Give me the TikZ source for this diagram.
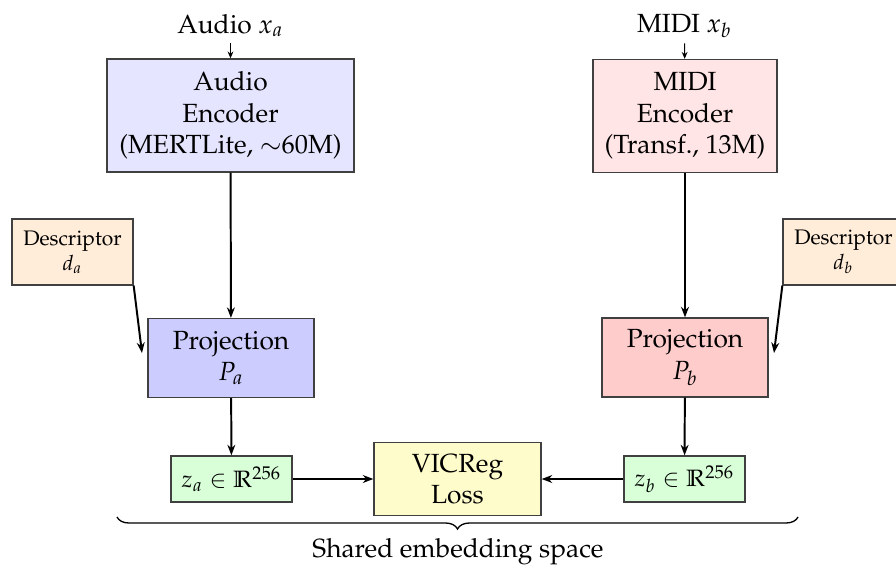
\documentclass[tikz,border=0pt]{standalone}
\usepackage[T1]{fontenc}
\usepackage{mathpazo}
\usepackage{amssymb}
\usetikzlibrary{arrows.meta,decorations.pathreplacing}
\begin{document}
\begin{tikzpicture}[x=0.3802pt,y=-0.3802pt,
  box/.style={draw=black!75, line width=0.5pt, align=center, inner sep=1pt},
  enca/.style={box, fill=blue!10, minimum width=93.9pt, minimum height=43pt},
  encb/.style={box, fill=red!10, minimum width=70pt, minimum height=43pt},
  proja/.style={box, fill=blue!20, minimum width=63pt, minimum height=30pt},
  projb/.style={box, fill=red!20, minimum width=63pt, minimum height=30pt},
  descbox/.style={box, fill=orange!15, minimum width=46pt, minimum height=25pt, font=\footnotesize},
  zbox/.style={box, fill=green!15, minimum width=46pt, minimum height=17.5pt, font=\small},
  lossbox/.style={box, fill=yellow!20, minimum width=63.5pt, minimum height=28pt},
  inlabel/.style={inner sep=2pt},
  arr/.style={-{Stealth[length=4pt,width=3pt]}, line width=0.75pt},
  smallarr/.style={-{Stealth[length=2.6pt,width=2.2pt]}, line width=0.4pt}
]
\useasboundingbox (0,0) rectangle (896,568);

\node[inlabel, anchor=base] (la) at (230.5,33) {Audio $x_a$};
\node[inlabel, anchor=base] (lb) at (684.5,32) {MIDI $x_b$};

\node[enca] (ea) at (230.5,115.5) {Audio\\Encoder\\(MERTLite, $\sim$60M)};
\node[encb] (eb) at (685,116) {MIDI\\Encoder\\(Transf., 13M)};

\node[descbox] (da) at (72.5,252) {Descriptor\\$d_a$};
\node[descbox] (db) at (843.5,252) {Descriptor\\$d_b$};

\node[proja] (pa) at (231,358) {Projection\\$P_a$};
\node[projb] (pb) at (685,357.5) {Projection\\$P_b$};

\node[zbox] (za) at (231.5,479) {$z_a \in \mathbb{R}^{256}$};
\node[zbox] (zb) at (684.5,479) {$z_b \in \mathbb{R}^{256}$};
\node[lossbox] (vic) at (457.5,479) {VICReg\\Loss};

\coordinate (dae) at (142,353);
\coordinate (dbe) at (774,353);
\coordinate (bl) at (117,517);
\coordinate (br) at (798,517);

\draw[smallarr] (la) -- (ea);
\draw[smallarr] (lb) -- (eb);
\draw[arr] (ea) -- (pa);
\draw[arr] (eb) -- (pb);
\draw[arr] (pa) -- (za);
\draw[arr] (pb) -- (zb);
\draw[arr] (za) -- (vic);
\draw[arr] (zb) -- (vic);
\draw[arr] (da.south east) -- (dae);
\draw[arr] (db.south west) -- (dbe);

\draw[line width=0.5pt, decorate, decoration={brace, mirror, amplitude=4.56pt}] (bl) -- (br);
\node[inner sep=0pt] (shared) at (458,552) {Shared embedding space};
\end{tikzpicture}
\end{document}
